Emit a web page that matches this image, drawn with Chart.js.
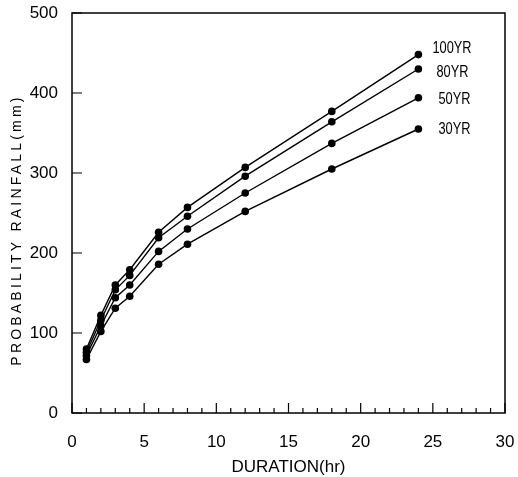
<!DOCTYPE html>
<html>
<head>
<meta charset="utf-8">
<script src="https://cdn.jsdelivr.net/npm/chart.js@4"></script>
<style>
  html, body { margin: 0; padding: 0; background: #fff; }
  #wrap { width: 518px; height: 477px; position: relative; }
</style>
</head>
<body>
<div id="wrap"><canvas id="c"></canvas></div>
<script>
const durations = [1, 2, 3, 4, 6, 8, 12, 18, 24];
const rain100 = [80, 122, 160, 179, 226, 257, 307, 377, 448];
const rain80 = [76, 116, 154, 172, 219, 246, 296, 364, 430];
const rain50 = [72, 109, 144, 160, 202, 230, 275, 337, 394];
const rain30 = [67, 102, 131, 146, 186, 211, 252, 305, 355];
const seriesLabels = ['100YR', '80YR', '50YR', '30YR'];
const xTicks = [0, 5, 10, 15, 20, 25, 30];
const yTicks = [0, 100, 200, 300, 400, 500];

const FONT = '"Liberation Sans", Arial, sans-serif';

const toPoints = arr => arr.map((v, i) => ({ x: durations[i], y: v }));

const makeSet = (label, arr) => ({
  label: label,
  data: toPoints(arr),
  borderColor: '#000',
  backgroundColor: '#000',
  borderWidth: 1.4,
  pointRadius: 3.8,
  pointBorderWidth: 0,
  tension: 0
});

// box + inward tick marks
const frame = {
  id: 'frame',
  afterDraw(chart) {
    const { ctx, chartArea: a, scales } = chart;
    ctx.save();
    ctx.strokeStyle = '#000';
    ctx.lineWidth = 1.5;
    ctx.strokeRect(a.left, a.top, a.right - a.left, a.bottom - a.top);
    ctx.lineWidth = 1.2;
    ctx.beginPath();
    for (let i = 0; i <= 30; i++) {
      const px = scales.x.getPixelForValue(i);
      const len = i % 5 === 0 ? 10 : 5;
      ctx.moveTo(px, a.bottom);
      ctx.lineTo(px, a.bottom - len);
    }
    yTicks.forEach(v => {
      const py = scales.y.getPixelForValue(v);
      ctx.moveTo(a.left, py);
      ctx.lineTo(a.left + 10, py);
    });
    ctx.stroke();
    ctx.restore();
  }
};

// series names next to last points (narrowed text)
const endLabels = {
  id: 'endLabels',
  afterDatasetsDraw(chart) {
    const { ctx } = chart;
    const offs = [[14, -6], [18, 4], [20, 2], [20, 1]];
    ctx.save();
    ctx.fillStyle = '#000';
    ctx.font = '16px ' + FONT;
    ctx.textBaseline = 'middle';
    chart.data.datasets.forEach((ds, i) => {
      const meta = chart.getDatasetMeta(i);
      const pt = meta.data[meta.data.length - 1];
      ctx.save();
      ctx.translate(pt.x + offs[i][0], pt.y + offs[i][1]);
      ctx.scale(0.8, 1);
      ctx.fillText(ds.label, 0, 0);
      ctx.restore();
    });
    ctx.restore();
  }
};

// spaced vertical title
const yTitle = {
  id: 'yTitle',
  afterDraw(chart) {
    const { ctx, chartArea: a } = chart;
    ctx.save();
    ctx.translate(17, (a.top + a.bottom) / 2 + 17);
    ctx.rotate(-Math.PI / 2);
    ctx.font = '14px ' + FONT;
    ctx.letterSpacing = '3.2px';
    ctx.fillStyle = '#000';
    ctx.textAlign = 'center';
    ctx.textBaseline = 'middle';
    ctx.fillText('PROBABILITY RAINFALL(mm)', 0, 0);
    ctx.restore();
  }
};

new Chart(document.getElementById('c'), {
  type: 'line',
  data: {
    datasets: [
      makeSet(seriesLabels[0], rain100),
      makeSet(seriesLabels[1], rain80),
      makeSet(seriesLabels[2], rain50),
      makeSet(seriesLabels[3], rain30)
    ]
  },
  options: {
    responsive: true,
    maintainAspectRatio: false,
    animation: false,
    layout: { padding: { top: 13, right: 13, left: 0, bottom: 0 } },
    plugins: { legend: { display: false }, tooltip: { enabled: false } },
    scales: {
      x: {
        type: 'linear',
        min: 0,
        max: 30,
        afterBuildTicks: s => { s.ticks = xTicks.map(v => ({ value: v })); },
        afterFit: s => { s.height = 64; s.paddingLeft = 0; s.paddingRight = 0; },
        grid: { display: false, drawTicks: false },
        border: { display: false },
        ticks: { color: '#000', padding: 19, maxRotation: 0, font: { size: 17, family: FONT } },
        title: {
          display: true,
          text: 'DURATION(hr)',
          color: '#000',
          padding: { top: 0, bottom: -1 },
          font: { size: 17, family: FONT }
        }
      },
      y: {
        type: 'linear',
        min: 0,
        max: 500,
        afterBuildTicks: s => { s.ticks = yTicks.map(v => ({ value: v })); },
        afterFit: s => { s.width = 72; s.paddingTop = 0; s.paddingBottom = 0; },
        grid: { display: false, drawTicks: false },
        border: { display: false },
        ticks: { color: '#000', padding: 14, font: { size: 17, family: FONT } }
      }
    }
  },
  plugins: [frame, endLabels, yTitle]
});
</script>
</body>
</html>
